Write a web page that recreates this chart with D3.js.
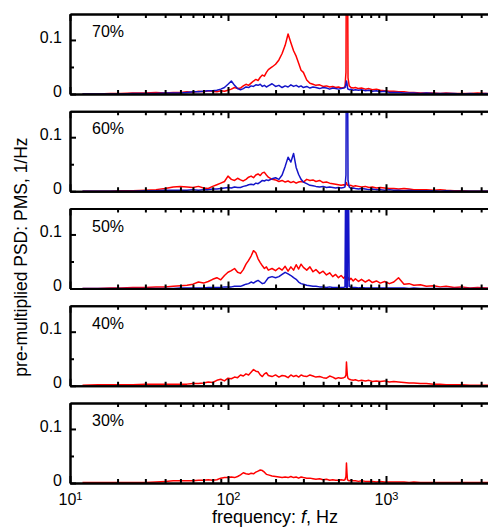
<!DOCTYPE html>
<html>
<head>
<meta charset="utf-8">
<script src="https://cdn.jsdelivr.net/npm/d3@7"></script>
<style>
  body { margin: 0; background: white; }
  text { font-family: "Liberation Sans", Arial, sans-serif; }
</style>
</head>
<body>
<div id="canvas"></div>
<script>
const width = 488;
const height = 527;

// frequency grid, Hz
const freq = [
    12, 15, 18, 21, 25, 30, 35, 40, 45, 50,
    55, 60, 65, 70, 75, 80, 85, 90, 95, 100,
    105, 110, 115, 120, 125, 130, 135, 140, 145, 150,
    155, 160, 165, 170, 175, 180, 190, 200, 210, 220,
    230, 240, 250, 260, 270, 280, 290, 300, 315, 330,
    345, 360, 380, 400, 420, 440, 460, 480, 500, 520,
    540, 550, 558, 562, 566, 570, 575, 585, 600, 620,
    640, 670, 700, 740, 780, 820, 870, 920, 980, 1050,
    1120, 1200, 1300, 1400, 1500, 1650, 1800, 2000, 2200, 2400,
    2700, 3000, 3400, 3800, 4300, 4700
];

// pre-multiplied PSD, red series
const r70 = [
    0, 0, 0.001, 0.001, 0.002, 0.002, 0.003, 0.002, 0.003, 0.003,
    0.004, 0.003, 0.005, 0.004, 0.006, 0.005, 0.004, 0.006, 0.005, 0.007,
    0.009, 0.012, 0.01, 0.011, 0.015, 0.018, 0.016, 0.02, 0.024, 0.027,
    0.025, 0.031, 0.035, 0.033, 0.04, 0.045, 0.05, 0.055, 0.063, 0.075,
    0.09, 0.111, 0.095, 0.08, 0.07, 0.057, 0.044, 0.04, 0.026, 0.02,
    0.018, 0.016, 0.017, 0.014, 0.015, 0.013, 0.014, 0.012, 0.013, 0.011,
    0.012, 0.013, 0.04, 0.3, 0.3, 0.3, 0.03, 0.015, 0.012, 0.011,
    0.012, 0.01, 0.011, 0.009, 0.01, 0.008, 0.009, 0.007, 0.006, 0.005,
    0.005, 0.004, 0.004, 0.003, 0.003, 0.002, 0.002, 0.002, 0.001, 0.002,
    0.001, 0.001, 0.001, 0.002, 0.001, 0.001
];
const r60 = [
    0, 0, 0, 0.001, 0.001, 0.002, 0.003, 0.005, 0.008, 0.009,
    0.008, 0.007, 0.009, 0.006, 0.005, 0.009, 0.012, 0.015, 0.018, 0.028,
    0.022, 0.02, 0.024, 0.021, 0.019, 0.022, 0.026, 0.028, 0.025, 0.03,
    0.032, 0.029, 0.034, 0.035, 0.03, 0.026, 0.022, 0.021, 0.018, 0.02,
    0.017, 0.019, 0.016, 0.018, 0.015, 0.017, 0.018, 0.017, 0.022, 0.02,
    0.021, 0.018, 0.02, 0.016, 0.017, 0.015, 0.014, 0.013, 0.012, 0.011,
    0.012, 0.011, 0.014, 0.016, 0.013, 0.011, 0.012, 0.01, 0.011, 0.009,
    0.01, 0.009, 0.008, 0.009, 0.007, 0.008, 0.006, 0.007, 0.006, 0.005,
    0.005, 0.004, 0.005, 0.004, 0.003, 0.003, 0.003, 0.002, 0.003, 0.002,
    0.001, 0.001, 0, 0, 0, 0
];
const r50 = [
    0, 0, 0.001, 0.001, 0.002, 0.002, 0.003, 0.003, 0.004, 0.005,
    0.006, 0.008, 0.012, 0.01, 0.013, 0.017, 0.02, 0.016, 0.024, 0.03,
    0.033, 0.037, 0.03, 0.028, 0.035, 0.045, 0.052, 0.06, 0.07, 0.066,
    0.055, 0.048, 0.042, 0.037, 0.04, 0.034, 0.037, 0.033, 0.038, 0.034,
    0.041, 0.032, 0.04, 0.034, 0.044, 0.036, 0.045, 0.039, 0.034, 0.04,
    0.031, 0.035, 0.028, 0.032, 0.025, 0.029, 0.022, 0.026, 0.02, 0.024,
    0.019, 0.022, 0.018, 0.021, 0.024, 0.017, 0.021, 0.015, 0.019, 0.014,
    0.018, 0.013, 0.017, 0.012, 0.016, 0.011, 0.014, 0.01, 0.013, 0.009,
    0.012, 0.02, 0.008, 0.009, 0.006, 0.007, 0.004, 0.005, 0.003, 0.004,
    0.002, 0.003, 0.001, 0.002, 0.001, 0.001
];
const r40 = [
    0.001, 0.002, 0.002, 0.002, 0.002, 0.003, 0.003, 0.003, 0.003, 0.003,
    0.003, 0.004, 0.004, 0.005, 0.007, 0.006, 0.01, 0.012, 0.009, 0.014,
    0.013, 0.016, 0.015, 0.02, 0.018, 0.022, 0.02, 0.025, 0.03, 0.027,
    0.026, 0.02, 0.017, 0.022, 0.024, 0.019, 0.017, 0.02, 0.016, 0.019,
    0.018, 0.015, 0.02, 0.017, 0.019, 0.016, 0.02, 0.018, 0.017, 0.02,
    0.018, 0.016, 0.017, 0.015, 0.014, 0.018, 0.016, 0.013, 0.015, 0.014,
    0.015, 0.016, 0.02, 0.044, 0.03, 0.018, 0.014, 0.012, 0.011, 0.01,
    0.011, 0.009, 0.01, 0.009, 0.01, 0.008, 0.009, 0.008, 0.009, 0.007,
    0.008, 0.007, 0.006, 0.005, 0.005, 0.004, 0.004, 0.003, 0.003, 0.002,
    0.002, 0.002, 0.001, 0.001, 0.001, 0.001
];
const r30 = [
    0.001, 0.001, 0.001, 0.001, 0.001, 0.001, 0.002, 0.003, 0.004, 0.004,
    0.004, 0.004, 0.005, 0.005, 0.006, 0.005, 0.006, 0.009, 0.01, 0.01,
    0.011, 0.01, 0.012, 0.015, 0.019, 0.017, 0.016, 0.018, 0.017, 0.02,
    0.022, 0.024, 0.023, 0.02, 0.016, 0.015, 0.013, 0.012, 0.011, 0.01,
    0.011, 0.01, 0.012, 0.01, 0.011, 0.009, 0.011, 0.01, 0.009, 0.009,
    0.008, 0.007, 0.008, 0.006, 0.007, 0.005, 0.006, 0.005, 0.005, 0.006,
    0.005, 0.006, 0.012, 0.037, 0.02, 0.006, 0.005, 0.004, 0.005, 0.004,
    0.004, 0.003, 0.004, 0.003, 0.003, 0.003, 0.002, 0.003, 0.002, 0.002,
    0.002, 0.002, 0.002, 0.001, 0.002, 0.001, 0.001, 0.001, 0.001, 0.001,
    0.001, 0.001, 0.001, 0.001, 0.001, 0.001
];

// blue series (only the three top panels have one)
const b70 = [
    0, 0, 0, 0, 0.001, 0.001, 0.001, 0.002, 0.002, 0.002,
    0.003, 0.004, 0.004, 0.005, 0.006, 0.006, 0.007, 0.009, 0.012, 0.018,
    0.024, 0.016, 0.01, 0.008, 0.01, 0.013, 0.012, 0.015, 0.014, 0.017,
    0.016, 0.018, 0.014, 0.016, 0.013, 0.015, 0.019, 0.014, 0.016, 0.012,
    0.015, 0.013, 0.017, 0.014, 0.016, 0.013, 0.015, 0.012, 0.014, 0.011,
    0.013, 0.012, 0.01, 0.012, 0.011, 0.009, 0.011, 0.01, 0.009, 0.01,
    0.011, 0.012, 0.018, 0.024, 0.02, 0.012, 0.009, 0.008, 0.009, 0.007,
    0.008, 0.007, 0.008, 0.006, 0.007, 0.005, 0.006, 0.004, 0.005, 0.003,
    0.003, 0.003, 0.002, 0.002, 0.002, 0.001, 0.002, 0.001, 0.001, 0.001,
    0.001, 0, 0.001, 0, 0.001, 0
];
const b60 = [
    0, 0, 0, 0, 0, 0.001, 0.001, 0.002, 0.002, 0.002,
    0.002, 0.003, 0.002, 0.003, 0.003, 0.004, 0.004, 0.005, 0.006, 0.007,
    0.006, 0.008, 0.007, 0.007, 0.009, 0.01, 0.012, 0.013, 0.012, 0.015,
    0.014, 0.017, 0.02, 0.019, 0.021, 0.02, 0.023, 0.025, 0.022, 0.03,
    0.046, 0.063, 0.054, 0.07, 0.044, 0.031, 0.022, 0.017, 0.014, 0.011,
    0.01, 0.009, 0.008, 0.009, 0.007, 0.008, 0.007, 0.006, 0.007, 0.006,
    0.007, 0.008, 0.03, 0.3, 0.3, 0.3, 0.02, 0.008, 0.005, 0.006,
    0.005, 0.004, 0.005, 0.004, 0.003, 0.004, 0.003, 0.003, 0.002, 0.003,
    0.002, 0.002, 0.001, 0.002, 0.001, 0.001, 0.001, 0.001, 0, 0.001,
    0, 0, 0, 0, 0, 0
];
const b50 = [
    0, 0, 0, 0, 0, 0, 0, 0, 0, 0.001,
    0.001, 0.001, 0.001, 0.001, 0.002, 0.002, 0.002, 0.002, 0.003, 0.003,
    0.003, 0.004, 0.004, 0.004, 0.006, 0.008, 0.009, 0.012, 0.01, 0.013,
    0.015, 0.012, 0.009, 0.01, 0.015, 0.02, 0.022, 0.02, 0.022, 0.026,
    0.03, 0.027, 0.024, 0.02, 0.017, 0.012, 0.009, 0.008, 0.006, 0.005,
    0.004, 0.004, 0.003, 0.003, 0.002, 0.003, 0.002, 0.002, 0.002, 0.002,
    0.002, 0.003, 0.3, 0.002, 0.3, 0.002, 0.3, 0.004, 0.002, 0.002,
    0.002, 0.001, 0.002, 0.001, 0.001, 0.001, 0.001, 0.001, 0.001, 0.001,
    0.001, 0.001, 0.001, 0, 0.001, 0, 0, 0, 0, 0,
    0, 0, 0, 0, 0, 0
];

const panelLabels = ["70%", "60%", "50%", "40%", "30%"];
const redSeries = [r70, r60, r50, r40, r30];
const blueSeries = [b70, b60, b50, null, null];

const xMajor = [10, 100, 1000];
const xMinor = [20, 30, 40, 50, 60, 70, 80, 90, 200, 300, 400, 500, 600, 700, 800, 900, 2000, 3000, 4000];
const yMajor = [0, 0.1];
const yMinor = [0.05];

const svg = d3.select("#canvas")
    .append("svg")
    .attr("width", width)
    .attr("height", height);

svg.append("rect")
    .attr("width", width)
    .attr("height", height)
    .attr("fill", "white");

// one decade is 158 px, axis starts at x = 70
const x = d3.scaleLog()
    .domain([10, 5000])
    .range([70, 70 + 158 * Math.log10(500)]);

const panelHeight = 80;
const panelStep = 97.25;
const firstTop = 14;
const font = "'Liberation Sans', Arial, sans-serif";

function styleAxis(g) {
    g.attr("font-family", font);
    g.select(".domain").attr("stroke-width", 2);
    g.selectAll(".tick line").attr("stroke-width", 2);
}

for (let i = 0; i < panelLabels.length; i++) {
    let top = firstTop + i * panelStep;
    let bottom = top + panelHeight;

    let y = d3.scaleLinear()
        .domain([0, 0.148])
        .range([bottom, top]);

    let line = d3.line()
        .x((d, j) => x(freq[j]))
        .y(d => y(d));

    svg.append("clipPath")
        .attr("id", "clip" + i)
        .append("rect")
        .attr("x", 70)
        .attr("y", top)
        .attr("width", width)
        .attr("height", panelHeight);

    let plot = svg.append("g").attr("clip-path", "url(#clip" + i + ")");

    plot.append("path")
        .datum(redSeries[i])
        .attr("d", line)
        .attr("fill", "none")
        .attr("stroke", "#ff0000")
        .attr("stroke-width", 1.5)
        .attr("stroke-linejoin", "round");

    if (blueSeries[i]) {
        plot.append("path")
            .datum(blueSeries[i])
            .attr("d", line)
            .attr("fill", "none")
            .attr("stroke", "#1414c8")
            .attr("stroke-width", 1.5)
            .attr("stroke-linejoin", "round");
    }

    // bottom ticks, pointing up
    svg.append("g")
        .attr("transform", `translate(0,${bottom})`)
        .call(d3.axisBottom(x).tickValues(xMinor).tickSize(-4).tickSizeOuter(0).tickFormat(""))
        .call(styleAxis);

    let bottomMajor = svg.append("g")
        .attr("transform", `translate(0,${bottom})`)
        .call(d3.axisBottom(x).tickValues(xMajor).tickSize(-7).tickSizeOuter(0).tickPadding(11)
            .tickFormat(i === panelLabels.length - 1 ? (d => "10") : ""))
        .call(styleAxis);

    if (i === panelLabels.length - 1) {
        bottomMajor.selectAll(".tick text")
            .attr("font-size", 16)
            .attr("fill", "black")
            .append("tspan")
            .attr("dy", "-0.45em")
            .attr("font-size", 11)
            .text(d => Math.round(Math.log10(d)));
    }

    // top ticks, pointing down
    svg.append("g")
        .attr("transform", `translate(0,${top})`)
        .call(d3.axisTop(x).tickValues(xMinor).tickSize(-4).tickSizeOuter(0).tickFormat(""))
        .call(styleAxis);

    svg.append("g")
        .attr("transform", `translate(0,${top})`)
        .call(d3.axisTop(x).tickValues(xMajor).tickSize(-7).tickSizeOuter(0).tickFormat(""))
        .call(styleAxis);

    // left axis
    svg.append("g")
        .attr("transform", "translate(70,0)")
        .call(d3.axisLeft(y).tickValues(yMinor).tickSize(-4).tickSizeOuter(0).tickFormat(""))
        .call(styleAxis);

    svg.append("g")
        .attr("transform", "translate(70,0)")
        .call(d3.axisLeft(y).tickValues(yMajor).tickSize(-6).tickSizeOuter(0).tickPadding(8)
            .tickFormat(d3.format("~g")))
        .call(styleAxis)
        .selectAll(".tick text")
        .attr("font-size", 16)
        .attr("fill", "black")
        .attr("dy", "0.13em");

    svg.append("text")
        .attr("x", 92)
        .attr("y", top + 23)
        .attr("font-size", 16)
        .attr("font-family", font)
        .text(panelLabels[i]);
}

svg.append("text")
    .attr("transform", "translate(27,257) rotate(-90)")
    .attr("text-anchor", "middle")
    .attr("font-size", 17.5)
    .attr("font-family", font)
    .text("pre-multiplied PSD: PMS, 1/Hz");

let xLabel = svg.append("text")
    .attr("x", 212)
    .attr("y", 523)
    .attr("font-size", 18)
    .attr("font-family", font);
xLabel.append("tspan").text("frequency: ");
xLabel.append("tspan").attr("font-style", "italic").text("f");
xLabel.append("tspan").text(", Hz");
</script>
</body>
</html>
